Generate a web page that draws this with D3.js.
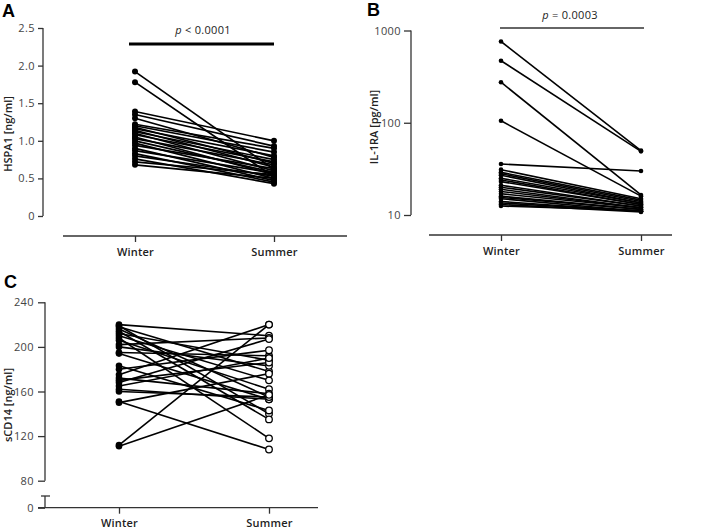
<!DOCTYPE html>
<html><head><meta charset="utf-8">
<script src="https://cdn.jsdelivr.net/npm/d3@7"></script>
<style>
body{margin:0;background:#fff;}
text{font-family:"Open Sans",sans-serif;}
</style></head>
<body><svg id="c" width="712" height="530"></svg>
<script>
// ---- data ----
const seasons = ["Winter", "Summer"];
const hspaWinter = [1.92, 1.78, 1.39, 1.35, 1.30, 1.22, 1.20, 1.18, 1.16, 1.14, 1.12, 1.10, 1.08, 1.05, 1.03, 1.00, 0.97, 0.94, 0.90, 0.87, 0.83, 0.80, 0.76, 0.72, 0.68];
const hspaSummer = [0.62, 0.52, 1.00, 0.93, 0.78, 0.90, 0.85, 0.70, 0.80, 0.65, 0.75, 0.60, 0.72, 0.55, 0.68, 0.58, 0.50, 0.63, 0.47, 0.57, 0.45, 0.53, 0.43, 0.55, 0.50];
const il1raWinter = [760, 470, 275, 105, 35.7, 31, 29, 28, 27, 25, 24, 23, 21, 20, 19, 18, 17, 16, 15.5, 15, 14, 13.5, 13, 12.5];
const il1raSummer = [50, 49, 16.5, 16, 30, 15, 14.5, 14, 13.5, 13.5, 13, 13, 12.5, 12.5, 12, 12, 12, 11.5, 11.5, 11, 11, 11, 10.8, 11.2];
const cd14Winter = [220, 219, 218, 216, 214, 212, 210, 208, 206, 202, 200, 195, 194, 183, 180, 175, 172, 170, 168, 165, 162, 160, 151, 150, 112, 111];
const cd14Summer = [210, 140, 178, 155, 135, 188, 170, 118, 162, 208, 183, 192, 153, 143, 197, 220, 158, 186, 207, 190, 153, 155, 108, 176, 220, 157];
const hspaTicks = [0, 0.5, 1.0, 1.5, 2.0, 2.5];
const hspaTickLabels = ["0", "0.5", "1.0", "1.5", "2.0", "2.5"];
const il1raTicks = [10, 100, 1000];
const cd14Ticks = [0, 80, 120, 160, 200, 240];

const svg = d3.select("#c");
const axisColor = "#333";

function styleAxis(g){
  g.selectAll("path.domain").remove();
  g.selectAll(".tick line").attr("stroke", axisColor).attr("stroke-width", 1.3);
  g.selectAll(".tick text").attr("fill", "#444").style("font-size", "11px").style("letter-spacing", "0.4px").style("font-family", "'Open Sans',sans-serif");
}

function panel(opts){
  const {x, y, winter, summer, yAxisX, xAxisY, xLine, letter, letterPos, title, titlePos, ticks, fmt, r, openSummer, lw, tickLen, tickPad} = opts;
  const g = svg.append("g");
  // y axis
  const ya = g.append("g").attr("transform", `translate(${yAxisX},0)`)
    .call(d3.axisLeft(y).tickValues(ticks).tickFormat(fmt).tickSize(tickLen).tickPadding(tickPad));
  styleAxis(ya);
  if(opts.yDomainSegs){
    opts.yDomainSegs.forEach(s => g.append("line").attr("x1", yAxisX).attr("x2", yAxisX).attr("y1", s[0]).attr("y2", s[1]).attr("stroke", axisColor).attr("stroke-width", 1.3));
  } else {
    const r0 = y.range();
    g.append("line").attr("x1", yAxisX).attr("x2", yAxisX).attr("y1", r0[0]).attr("y2", r0[r0.length-1]).attr("stroke", axisColor).attr("stroke-width", 1.3);
  }
  // x axis
  const xa = g.append("g").attr("transform", `translate(0,${xAxisY})`)
    .call(d3.axisBottom(x).tickSize(6).tickPadding(6));
  styleAxis(xa);
  xa.selectAll(".tick text").attr("fill", "#222").style("font-weight", "600").style("letter-spacing", "0.2px");
  g.append("line").attr("x1", xLine[0]).attr("x2", xLine[1]).attr("y1", xAxisY).attr("y2", xAxisY).attr("stroke", axisColor).attr("stroke-width", 1.3);
  // lines
  const pairs = winter.map((w, i) => [w, summer[i]]);
  g.append("g").selectAll("line").data(pairs).join("line")
    .attr("x1", x(seasons[0])).attr("x2", x(seasons[1]))
    .attr("y1", d => y(d[0])).attr("y2", d => y(d[1]))
    .attr("stroke", "#000").attr("stroke-width", lw);
  g.append("g").selectAll("circle").data(winter).join("circle")
    .attr("cx", x(seasons[0])).attr("cy", d => y(d)).attr("r", r).attr("fill", "#000");
  g.append("g").selectAll("circle").data(summer).join("circle")
    .attr("cx", x(seasons[1])).attr("cy", d => y(d)).attr("r", r)
    .attr("fill", openSummer ? "#fff" : "#000").attr("stroke", "#000").attr("stroke-width", openSummer ? 1.3 : 0);
  // letter
  g.append("text").attr("x", letterPos[0]).attr("y", letterPos[1]).text(letter)
    .style("font-family", "'Liberation Sans',Arial,sans-serif")
    .style("font-size", "18px").style("font-weight", "700").attr("fill", "#000");
  // title
  g.append("text").attr("transform", `translate(${titlePos[0]},${titlePos[1]}) rotate(-90)`)
    .attr("text-anchor", "middle").text(title)
    .style("font-size", "11px").style("font-weight", "600").attr("fill", "#222");
  return g;
}

// Panel A
const xA = d3.scalePoint().domain(seasons).range([135, 274]);
const yA = d3.scaleLinear().domain([0, 2.5]).range([216, 28]);
const gA = panel({x: xA, y: yA, winter: hspaWinter, summer: hspaSummer, yAxisX: 43, xAxisY: 236, xLine: [63, 347],
  letter: "A", letterPos: [2, 17], title: "HSPA1 [ng/ml]", titlePos: [12, 134], ticks: hspaTicks,
  fmt: (d, i) => hspaTickLabels[i], r: 3, openSummer: false, lw: 1.7, tickLen: 5, tickPad: 3});
gA.append("line").attr("x1", 129).attr("x2", 274).attr("y1", 44).attr("y2", 44).attr("stroke", "#000").attr("stroke-width", 3);
const tA = gA.append("text").attr("x", 203).attr("y", 34).attr("text-anchor", "middle").style("font-size", "11px").style("letter-spacing", "0.3px").attr("fill", "#222");
tA.append("tspan").style("font-style", "italic").text("p");
tA.append("tspan").text(" < 0.0001");

// Panel B
const xB = d3.scalePoint().domain(seasons).range([501, 641]);
const yB = d3.scaleLog().domain([10, 1000]).range([215, 30.5]);
const gB = panel({x: xB, y: yB, winter: il1raWinter, summer: il1raSummer, yAxisX: 411, xAxisY: 235, xLine: [429, 672],
  letter: "B", letterPos: [367, 16], title: "IL-1RA [pg/ml]", titlePos: [378, 127], ticks: il1raTicks,
  fmt: d3.format("d"), r: 2.3, openSummer: false, lw: 1.6, tickLen: 7, tickPad: 3});
gB.append("line").attr("x1", 500).attr("x2", 644).attr("y1", 28).attr("y2", 28).attr("stroke", "#333").attr("stroke-width", 1.6);
const tB = gB.append("text").attr("x", 570).attr("y", 19).attr("text-anchor", "middle").style("font-size", "11px").style("letter-spacing", "0.3px").attr("fill", "#222");
tB.append("tspan").style("font-style", "italic").text("p");
tB.append("tspan").text(" = 0.0003");

// Panel C (broken axis: 0 then 80..240)
const xC = d3.scalePoint().domain(seasons).range([119, 269]);
const yC = d3.scaleLinear().domain([0, 80, 240]).range([507.7, 480.7, 302.3]);
const gC = panel({x: xC, y: yC, winter: cd14Winter, summer: cd14Summer, yAxisX: 45, xAxisY: 507.7, xLine: [38, 318],
  letter: "C", letterPos: [4, 288], title: "sCD14 [ng/ml]", titlePos: [12, 405], ticks: cd14Ticks,
  fmt: d3.format("d"), r: 3.3, openSummer: true, lw: 1.6, tickLen: 7, tickPad: 4,
  yDomainSegs: [[302.3, 480.7], [496, 507.7]]});
gC.append("line").attr("x1", 41).attr("x2", 50).attr("y1", 496).attr("y2", 496).attr("stroke", axisColor).attr("stroke-width", 1.3);
</script></body></html>
